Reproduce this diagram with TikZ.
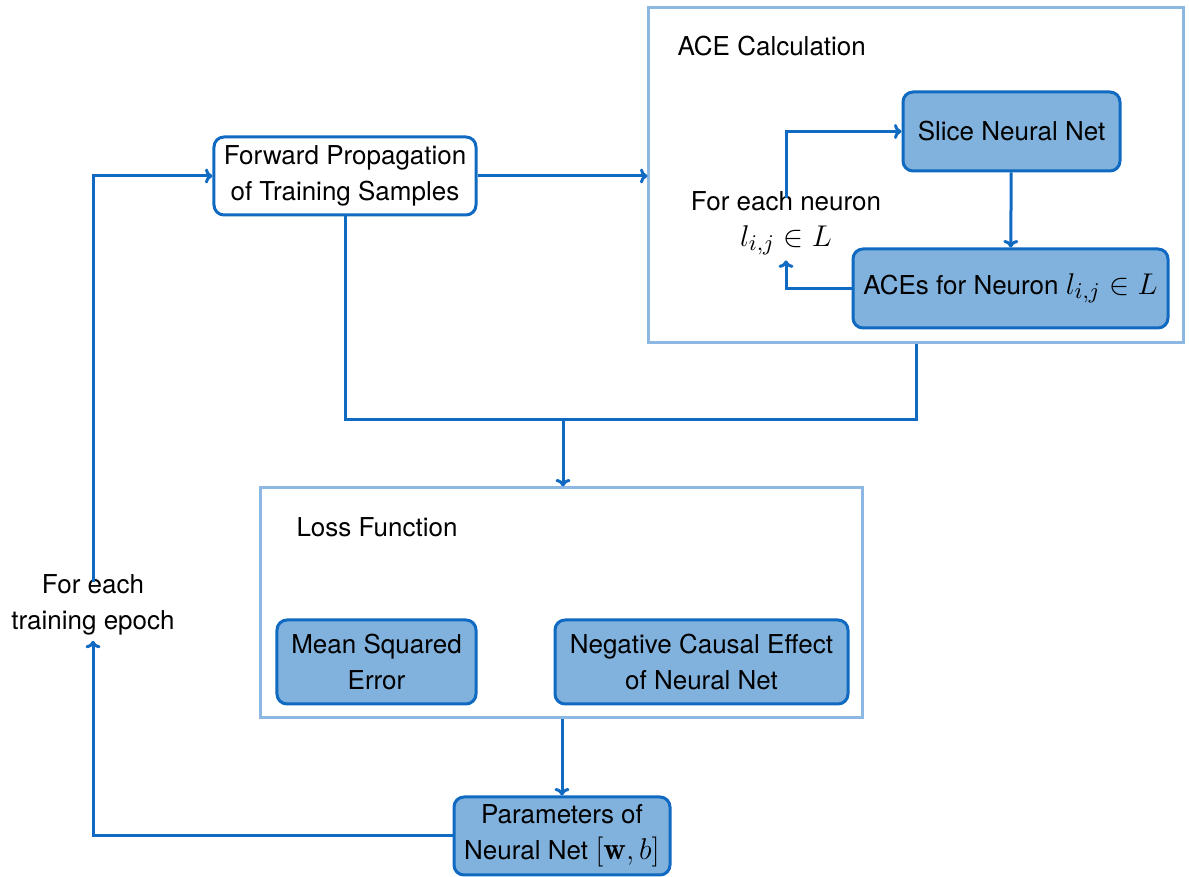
\documentclass[tikz,border=0pt]{standalone}
\usepackage{fontspec}
\setsansfont{TeX Gyre Heros}
\usetikzlibrary{arrows.meta}
\definecolor{flowblue}{RGB}{17,106,193}
\definecolor{boxfill}{RGB}{128,178,221}
\definecolor{groupline}{RGB}{140,184,227}
\newcommand{\bigmath}[1]{{\fontsize{12.5}{14.4}\selectfont$#1$}}

\begin{document}
\begin{tikzpicture}[
  x=0.4pt, y=-0.4pt,
  font=\sffamily\fontsize{10.4}{14.4}\selectfont,
  inner sep=0pt,
  stepbox/.style={draw=flowblue, line width=1.2pt, rounded corners=4pt, fill=boxfill,
    align=center},
  startbox/.style={stepbox, fill=white},
  groupbox/.style={draw=groupline, line width=1.2pt, fill=none},
  lbl/.style={align=center},
  arr/.style={-{To[length=3pt,width=6pt]}, draw=flowblue, line width=1.2pt},
  ln/.style={draw=flowblue, line width=1.2pt},
]
\useasboundingbox (0,0) rectangle (1189,877);

% --- Groups ---
\node[groupbox, minimum width=213.6pt, minimum height=134pt] (acebox) at (916,175.5) {};
\node[lbl, anchor=west] (acetitle) at (677,46) {ACE Calculation};
\node[groupbox, minimum width=240.4pt, minimum height=92pt] (loss) at (561.5,603) {};
\node[lbl, anchor=west] (losstitle) at (296,527) {Loss Function};

% --- Steps ---
\node[startbox, minimum width=104.8pt, minimum height=31.2pt] (fwd) at (345,176) {Forward Propagation\\of Training Samples};
\node[stepbox, minimum width=86.8pt, minimum height=31.6pt] (slice) at (1011.5,131.5) {Slice Neural Net};
\node[stepbox, minimum width=126pt, minimum height=31.6pt] (aces) at (1010.5,288.5) {ACEs for Neuron \bigmath{l_{i,j} \in L}};
\node[lbl] (neuron) at (786,223) {For each neuron\\\bigmath{l_{i,j} \in L}};
\node[stepbox, minimum width=79.6pt, minimum height=33.6pt] (mse) at (376.5,662) {Mean Squared\\Error};
\node[stepbox, minimum width=117.2pt, minimum height=33.6pt] (nce) at (701.5,662) {Negative Causal Effect\\of Neural Net};
\node[stepbox, minimum width=86.4pt, minimum height=31.2pt] (params) at (562,836) {Parameters of\\Neural Net \bigmath{[\mathbf{w}, b]}};
\node[lbl] (epoch) at (93,605) {For each\\training epoch};

% --- Connectors ---
\coordinate (merge) at (563,420);
\draw[arr] (fwd.east) -- (fwd.east -| acebox.west);
\draw[ln] (fwd.south) |- (merge) -| (acebox.south);
\draw[arr] (merge) -- (merge |- loss.north);
\draw[arr] ([yshift=-3pt]neuron.north) |- (slice.west);
\draw[arr] (slice) -- (aces);
\draw[arr] (aces.west) -| ([yshift=-2pt]neuron.south);
\draw[arr] (loss.south -| params.north) -- (params.north);
\draw[arr] (params.west) -| ([yshift=-2pt]epoch.south);
\draw[arr] ([yshift=-3pt]epoch.north) |- (fwd.west);

\end{tikzpicture}
\end{document}
